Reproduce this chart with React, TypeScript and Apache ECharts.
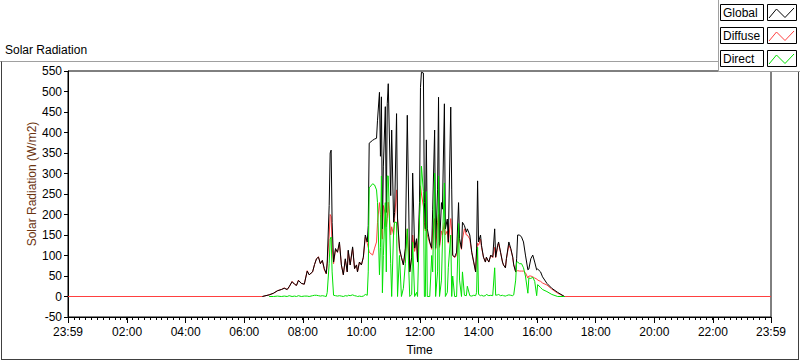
import React, { useEffect, useRef } from "react";
import * as echarts from "echarts";

// Sample times in minutes after midnight (-1 = 23:59 of the previous day, 1439 = 23:59)
const sampleMinutes = [
  -1, 397, 411, 420, 428, 436, 442, 448, 452, 458,
  463, 467, 471, 477, 483, 489, 493, 500, 504, 508,
  512, 516, 520, 524, 528, 530, 534, 536, 538, 540,
  543, 547, 551, 555, 559, 563, 567, 571, 573, 577,
  582, 586, 590, 592, 596, 600, 604, 608, 612, 614,
  616, 623, 627, 631, 633, 637, 639, 641, 643, 645,
  649, 651, 653, 655, 660, 662, 666, 668, 672, 674,
  678, 682, 686, 690, 694, 699, 703, 705, 709, 713,
  715, 719, 721, 723, 727, 729, 731, 733, 735, 740,
  744, 746, 750, 752, 756, 758, 760, 764, 766, 770,
  772, 776, 778, 783, 785, 787, 791, 795, 799, 801,
  805, 807, 811, 815, 817, 822, 826, 830, 834, 836,
  838, 840, 844, 846, 850, 854, 856, 861, 865, 869,
  873, 875, 879, 881, 885, 889, 891, 895, 897, 902,
  906, 910, 912, 916, 918, 920, 924, 928, 932, 936,
  941, 943, 947, 951, 955, 959, 961, 967, 971, 980,
  990, 1002, 1016, 1439,
];

const globalWm2: (number | null)[] = [
  null, 0, 4, 8, 14, 17, 20, 17, 24, 36,
  30, 27, 39, 32, 30, 62, 53, 60, 78, 92,
  96, 80, 88, 68, 56, 84, 222, 350, 357, 181,
  84, 117, 108, 133, 77, 53, 92, 60, 113, 77,
  121, 68, 77, 60, 84, 77, 96, 150, 133, 173,
  374, 381, 384, 386, 430, 498, 342, 487, 165, 318,
  463, 205, 470, 519, 246, 406, 181, 205, 446, 189,
  118, 96, 77, 118, 442, 60, 96, 301, 118, 141,
  84, 229, 510, 547, 545, 230, 165, 382, 165, 133,
  118, 213, 406, 118, 260, 486, 125, 229, 213, 470,
  165, 189, 133, 462, 260, 101, 96, 108, 229, 141,
  117, 181, 173, 157, 165, 150, 108, 84, 60, 118,
  282, 133, 150, 125, 96, 84, 96, 84, 101, 96,
  165, 96, 125, 133, 108, 84, 77, 70, 92, 133,
  117, 96, 77, 60, 92, 150, 150, 145, 133, 101,
  65, 67, 92, 101, 84, 65, 67, 60, 48, 32,
  20, 10, 0, null,
];

const diffuseWm2: (number | null)[] = [
  0, 0, 4, 8, 14, 17, 21, 17, 23, 37,
  30, 27, 40, 32, 30, 63, 53, 60, 78, 92,
  97, 80, 88, 65, 55, 80, 150, 200, 195, 120,
  80, 115, 108, 130, 77, 53, 90, 60, 110, 77,
  118, 68, 77, 60, 84, 77, 95, 145, 130, 120,
  108, 101, 118, 133, 181, 229, 200, 165, 140, 222,
  200, 170, 190, 230, 150, 170, 150, 190, 260, 190,
  110, 95, 77, 110, 165, 60, 95, 150, 110, 135,
  84, 200, 270, 250, 220, 180, 160, 180, 150, 130,
  115, 160, 190, 115, 180, 200, 120, 160, 150, 180,
  150, 160, 130, 190, 160, 100, 95, 100, 150, 135,
  115, 140, 165, 150, 150, 140, 108, 84, 60, 110,
  130, 125, 140, 120, 96, 84, 95, 84, 100, 95,
  120, 95, 120, 130, 108, 84, 77, 70, 92, 125,
  115, 95, 77, 60, 62, 63, 62, 62, 62, 58,
  45, 50, 50, 48, 45, 43, 40, 37, 33, 28,
  18, 8, 0, 0,
];

const directWm2: (number | null)[] = [
  null, null, 0, 0, 1, 0, 1, 0, 2, 0,
  1, 0, 2, 0, 1, 1, 0, 2, 3, 3,
  2, 1, 2, 1, 0, 10, 80, 140, 145, 60,
  3, 2, 1, 2, 1, 0, 2, 1, 3, 2,
  4, 2, 1, 0, 1, 0, 1, 5, 3, 60,
  265, 275, 272, 260, 229, 53, 120, 294, 9, 100,
  229, 60, 294, 294, 80, 0, 160, 181, 181, 0,
  100, 0, 20, 80, 165, 0, 5, 133, 0, 10,
  0, 189, 250, 318, 256, 0, 0, 256, 0, 0,
  100, 60, 301, 0, 60, 294, 0, 40, 133, 277,
  0, 10, 70, 150, 0, 50, 0, 0, 178, 40,
  0, 60, 3, 2, 25, 2, 1, 3, 2, 10,
  120, 5, 2, 3, 1, 2, 5, 2, 3, 2,
  70, 3, 4, 5, 2, 3, 2, 1, 2, 4,
  3, 2, 4, 40, 84, 84, 80, 80, 70, 50,
  8, 45, 44, 47, 37, 2, 29, 22, 17, 12,
  5, 0, 0, null,
];

const majorTickMinutes = [-1, 120, 240, 360, 480, 600, 720, 840, 960, 1080, 1200, 1320, 1439];
const legendNames = ["Global", "Diffuse", "Direct"];
const legendColors = ["#000000", "#ff4040", "#00e000"];
const chartTitle = "Solar Radiation";
const yAxisName = "Solar Radiation (W/m2)";
const xAxisName = "Time";

const FONT = "Liberation Sans, Arial, sans-serif";

function pad(n: number) {
  return n < 10 ? "0" + n : String(n);
}
function fmtTime(m: number) {
  if (m < 0 || m >= 1439) return "23:59";
  return pad(Math.floor(m / 60)) + ":" + pad(Math.round(m % 60));
}
function pairs(vals: (number | null)[]) {
  const out: [number, number][] = [];
  vals.forEach((v, i) => {
    if (v !== null) out.push([sampleMinutes[i], v]);
  });
  return out;
}

export default function App() {
  const ref = useRef<HTMLDivElement>(null);
  useEffect(() => {
    if (!ref.current) return;
    const chart = echarts.init(ref.current, null, { renderer: "svg" });
    const rowTops = [4, 27, 50];
    const legendGraphics: any[] = [
      {
        type: "rect",
        z: 100,
        shape: { x: 718.5, y: -1, width: 83, height: 72.5 },
        style: { fill: "#ffffff", stroke: "#a0a0a0", lineWidth: 1 },
      },
    ];
    legendNames.forEach((name, i) => {
      const t = rowTops[i];
      legendGraphics.push(
        {
          type: "rect",
          z: 101,
          shape: { x: 720.5, y: t + 0.5, width: 43, height: 16 },
          style: { fill: "#ffffff", stroke: "#000000", lineWidth: 1 },
        },
        {
          type: "text",
          z: 102,
          x: 723,
          y: t + 9,
          style: {
            text: name,
            fill: "#000000",
            font: "12px " + FONT,
            align: "left",
            verticalAlign: "middle",
          },
        },
        {
          type: "rect",
          z: 101,
          shape: { x: 767.5, y: t + 0.5, width: 29, height: 16 },
          style: { fill: "#ffffff", stroke: "#000000", lineWidth: 1 },
        },
        {
          type: "polyline",
          z: 102,
          shape: {
            points: [
              [769, t + 14],
              [776.5, t + 5],
              [785, t + 13.5],
              [794, t + 4],
            ],
          },
          style: { stroke: legendColors[i], lineWidth: 1, fill: null },
        }
      );
    });

    const option: any = {
      animation: false,
      backgroundColor: "#ffffff",
      textStyle: { fontFamily: FONT },
      grid: {
        left: 68,
        top: 71,
        width: 703,
        height: 250,
        show: true,
        borderColor: "#000000",
        borderWidth: 1,
        backgroundColor: "#ffffff",
        containLabel: false,
      },
      xAxis: [
        {
          type: "value",
          min: -1,
          max: 1439,
          interval: 12,
          position: "bottom",
          axisLine: { show: true, onZero: false, lineStyle: { color: "#000000", width: 1 } },
          axisTick: { show: true, length: 3, lineStyle: { color: "#000000" } },
          axisLabel: { show: false },
          splitLine: { show: false },
        },
        {
          type: "value",
          min: -1,
          max: 1439,
          position: "bottom",
          axisLine: { show: false, onZero: false },
          axisTick: {
            show: true,
            length: 6,
            customValues: majorTickMinutes,
            lineStyle: { color: "#000000" },
          },
          axisLabel: {
            show: true,
            customValues: majorTickMinutes,
            formatter: (v: number) => fmtTime(v),
            color: "#000000",
            fontSize: 12,
            fontFamily: FONT,
            margin: 9,
          },
          splitLine: { show: false },
          name: xAxisName,
          nameLocation: "middle",
          nameGap: 27,
          nameTextStyle: { color: "#000000", fontSize: 12, fontFamily: FONT },
        },
      ],
      yAxis: {
        type: "value",
        min: -50,
        max: 550,
        interval: 50,
        axisLine: { show: true, onZero: false, lineStyle: { color: "#000000", width: 1 } },
        axisTick: { show: true, length: 4, lineStyle: { color: "#000000" } },
        axisLabel: { color: "#000000", fontSize: 12, fontFamily: FONT, margin: 6 },
        splitLine: { show: false },
      },
      series: [
        {
          name: legendNames[1],
          type: "line",
          xAxisIndex: 0,
          data: pairs(diffuseWm2),
          showSymbol: false,
          symbol: "none",
          lineStyle: { color: legendColors[1], width: 1 },
          z: 2,
        },
        {
          name: legendNames[0],
          type: "line",
          xAxisIndex: 0,
          data: pairs(globalWm2),
          showSymbol: false,
          symbol: "none",
          lineStyle: { color: legendColors[0], width: 1 },
          z: 3,
        },
        {
          name: legendNames[2],
          type: "line",
          xAxisIndex: 0,
          data: pairs(directWm2),
          showSymbol: false,
          symbol: "none",
          lineStyle: { color: legendColors[2], width: 1 },
          z: 4,
        },
      ],
      graphic: [
        { type: "line", shape: { x1: 0, y1: 61.5, x2: 718, y2: 61.5 }, style: { stroke: "#a0a0a0", lineWidth: 1 } },
        { type: "line", shape: { x1: 1.5, y1: 61.5, x2: 1.5, y2: 360 }, style: { stroke: "#404040", lineWidth: 1 } },
        { type: "line", shape: { x1: 1.5, y1: 359.5, x2: 798.5, y2: 359.5 }, style: { stroke: "#404040", lineWidth: 1 } },
        { type: "line", shape: { x1: 798.5, y1: 72, x2: 798.5, y2: 360 }, style: { stroke: "#404040", lineWidth: 1 } },
        {
          type: "text",
          x: 5,
          y: 50,
          style: { text: chartTitle, fill: "#000000", font: "12px " + FONT, align: "left", verticalAlign: "middle" },
        },
        {
          type: "text",
          x: 32,
          y: 184,
          rotation: Math.PI / 2,
          style: { text: yAxisName, fill: "#6b3410", font: "12px " + FONT, align: "center", verticalAlign: "middle" },
        },
        ...legendGraphics,
      ],
    };
    chart.setOption(option);
    return () => chart.dispose();
  }, []);
  return (
    <div
      ref={ref}
      style={{ position: "fixed", left: 0, top: 0, width: 800, height: 361, background: "#ffffff" }}
    />
  );
}
